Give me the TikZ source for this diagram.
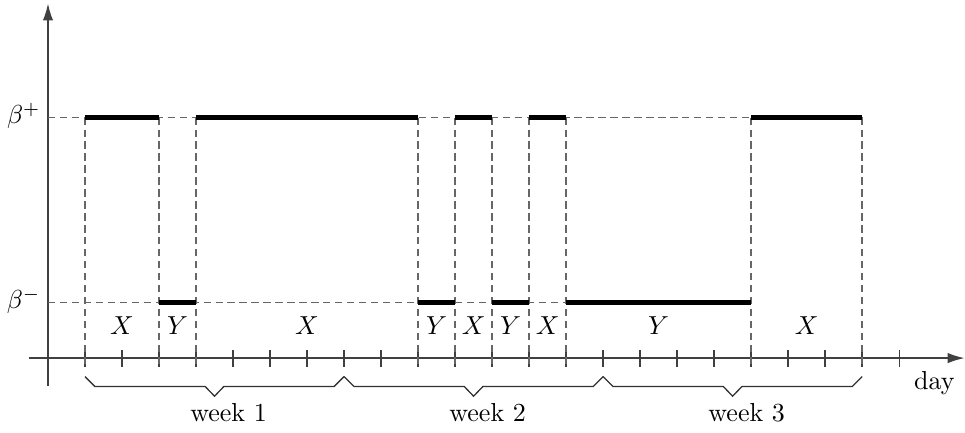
\documentclass[tikz,border=0pt]{standalone}
\usepackage{amsmath}
\usepackage{amssymb}
\usepackage{tikz}
\usetikzlibrary{positioning,calc,arrows.meta}

\begin{document}
\begin{tikzpicture}[x=0.5cm, y=0.5cm,
		axisline/.style={draw=black!75, line width=0.6pt, -{Latex[length=6.5pt,width=4pt]}},
		guide/.style={draw=black!60, line width=0.5pt, dash pattern=on 2.8pt off 1.8pt},
		level/.style={draw=black, line width=1.6pt},
		wbrace/.style={draw=black!80, line width=0.5pt, line join=miter},
		]
		\useasboundingbox (-2.297,-2.0) rectangle (23.78,9.676);
		
		% axes
		\coordinate (o) at (-1,0);
		\coordinate (xs) at (-1.5,0);
		\coordinate (xe) at (23.77,0);
		\coordinate (ys) at (-1,-0.75);
		\coordinate (ye) at (-1,9.58);
		\draw[axisline] (xs)--(xe);
		\draw[axisline] (ys)--(ye);
		\node[anchor=base] (day) at (22.95,-0.85) {day};
		
		\foreach \d in {0,...,22}
			\draw[draw=black!75, line width=0.5pt] (\d,-0.23)--(\d,0.23);
		
		% levels
		\coordinate (bp) at (-1,6.5);
		\coordinate (bm) at (-1,1.5);
		\node[anchor=east, inner sep=2pt] (bpt) at (-1.05,6.55) {$\beta^+$};
		\node[anchor=east, inner sep=2pt] (bmt) at (-1.05,1.55) {$\beta^-$};
		\draw[guide] (bp)--(21,6.5);
		\draw[guide] (bm)--(18,1.5);
		\foreach \d in {0,2,3,9,10,11,12,13,18,21}
			\draw[guide] (\d,6.5)--(\d,-0.25);
		
		\foreach \a/\b in {0/2,3/9,10/11,12/13,18/21}
			\draw[level] (\a,6.5)--(\b,6.5);
		\foreach \a/\b in {2/3,9/10,11/12,13/18}
			\draw[level] (\a,1.5)--(\b,1.5);
		
		\foreach \x/\t [count=\i] in {1/X,2.5/Y,6/X,9.5/Y,10.5/X,11.5/Y,12.5/X,15.5/Y,19.5/X}
			\node (lab\i) at (\x,0.88) {$\t$};
		
		% weeks
		\foreach \w/\a in {1/0,2/7,3/14} {
			\draw[wbrace] (\a,-0.5)--++(0.27,-0.27)--({\a+3.25},-0.77)--({\a+3.5},-1.03)
				--({\a+3.75},-0.77)--({\a+6.73},-0.77)--({\a+7},-0.5);
			\node (wk\w) at ({\a+3.88},-1.48) {week \w};
		}
	\end{tikzpicture}
\end{document}
